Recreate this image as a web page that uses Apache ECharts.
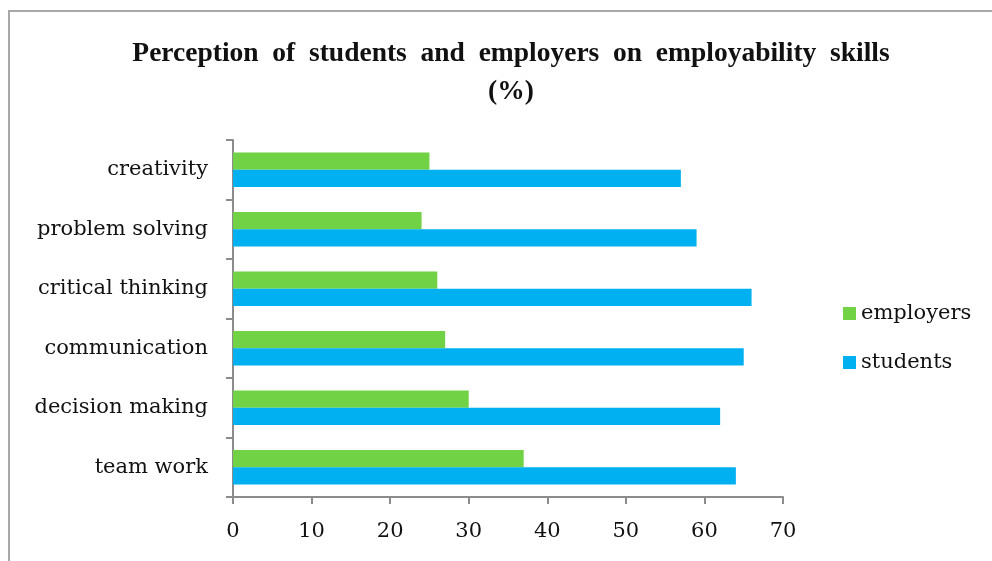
<!DOCTYPE html>
<html>
<head>
<meta charset="utf-8">
<script src="https://cdn.jsdelivr.net/npm/echarts@6/dist/echarts.min.js"></script>
<style>
  html, body { margin: 0; padding: 0; background: #fff; }
  #frame {
    position: absolute; left: 8px; top: 10px; width: 1000px; height: 560px;
    border-left: 2px solid #a8a8a8; border-top: 2px solid #a8a8a8;
  }
  #chart { position: absolute; left: 0; top: 0; width: 992px; height: 561px; }
</style>
</head>
<body>
<div id="frame"></div>
<div id="chart"></div>
<script>
// skills from bottom to top
var skills = ['team work', 'decision making', 'communication', 'critical thinking', 'problem solving', 'creativity'];
var students = [64, 62, 65, 66, 59, 57];
var employers = [37, 30, 27, 26, 24, 25];
var xTicks = [0, 10, 20, 30, 40, 50, 60, 70];

var chart = echarts.init(document.getElementById('chart'));

var labelFont = 'DejaVu Serif';

var option = {
    backgroundColor: 'transparent',
    animation: false,
    title: {
        text: 'Perception  of  students  and  employers  on  employability  skills\n(%)',
        left: 506,
        top: 30,
        textAlign: 'center',
        textStyle: {
            fontFamily: 'Liberation Serif',
            fontWeight: 'bold',
            fontSize: 27.5,
            color: '#111',
            lineHeight: 38
        }
    },
    legend: {
        orient: 'vertical',
        left: 838,
        top: 298,
        itemWidth: 13,
        itemHeight: 13,
        itemGap: 28,
        icon: 'rect',
        data: ['employers', 'students'],
        textStyle: {
            fontFamily: labelFont,
            fontSize: 21,
            color: '#111'
        }
    },
    grid: {
        left: 233,
        top: 140,
        width: 550,
        height: 357
    },
    xAxis: {
        type: 'value',
        min: xTicks[0],
        max: xTicks[xTicks.length - 1],
        interval: 10,
        splitLine: { show: false },
        axisLine: { show: true, lineStyle: { color: '#8c8c8c', width: 2 } },
        axisTick: { show: true, length: 7, lineStyle: { color: '#8c8c8c', width: 2 } },
        axisLabel: {
            margin: 24,
            fontFamily: labelFont,
            fontSize: 21,
            color: '#111'
        }
    },
    yAxis: {
        type: 'category',
        data: skills,
        axisLine: { show: true, lineStyle: { color: '#8c8c8c', width: 2 } },
        axisTick: { show: true, length: 7, lineStyle: { color: '#8c8c8c', width: 2 } },
        axisLabel: {
            margin: 25,
            fontFamily: labelFont,
            fontSize: 21,
            color: '#111'
        }
    },
    series: [
        {
            name: 'employers',
            type: 'bar',
            data: employers,
            barGap: '0%',
            barCategoryGap: '42%',
            itemStyle: { color: '#70d244' }
        },
        {
            name: 'students',
            type: 'bar',
            data: students,
            barGap: '0%',
            barCategoryGap: '42%',
            itemStyle: { color: '#00b0f0' }
        }
    ]
};

chart.setOption(option);
</script>
</body>
</html>
